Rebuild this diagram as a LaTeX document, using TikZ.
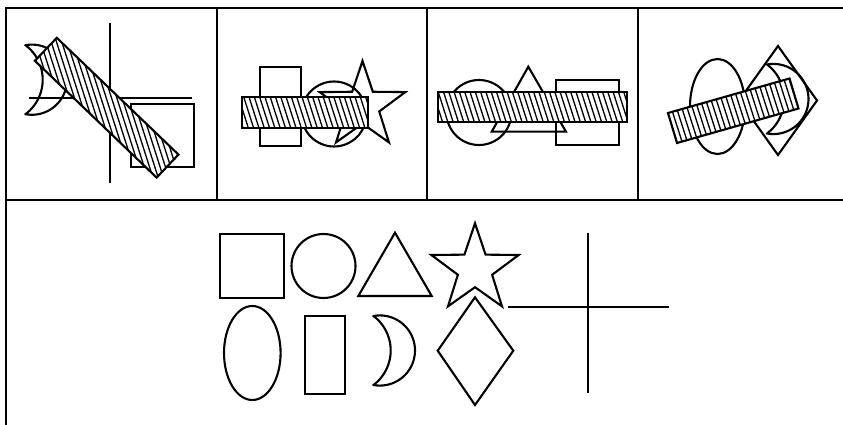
\documentclass[tikz,border=0pt]{standalone}
\tikzset{
  shp/.style={line width=2.1pt, line join=miter},
  frame/.style={line width=2.1pt},
  hatch/.style={line width=1.3pt},
}
% crescent, legend geometry shifted by (#1,#2)
\newcommand\mycrescent[2]{%
  \draw[shp] plot[domain=-100.5:100.5,samples=40] ({379.9+#1+35.1*cos(\x)},{350.5+#2+35.1*sin(\x)})
    -- plot[domain=53:-53,samples=30] ({347.5+#1+43.2*cos(\x)},{350.5+#2+43.2*sin(\x)}) -- cycle;}
% star: center (#1,#2), outer radius #3, inner radius #4
\newcommand\mystar[4]{%
  \draw[shp] plot[samples at={0,...,9}]
    ({#1+((#3+#4)/2+(#3-#4)/2*cos(180*\x))*sin(36*\x)},
     {#2-((#3+#4)/2+(#3-#4)/2*cos(180*\x))*cos(36*\x)}) -- cycle;}
% hatched bar given as a closed polygon path
\newcommand\stripebar[1]{%
  \fill[white] #1 -- cycle;
  \begin{scope}
    \clip #1 -- cycle;
    \foreach \k in {0,...,180} \draw[hatch] ({-100+5.3*\k},0) -- ++(64,200);
  \end{scope}
  \draw[shp] #1 -- cycle;}
\begin{document}
\begin{tikzpicture}[x=1pt,y=-1pt]
\useasboundingbox (0,0) rectangle (843,425);
% frame
\draw[frame] (6,425) -- (6,8.3) -- (843,8.3);
\draw[frame] (6,200) -- (843,200);
\draw[frame] (217,8.3) -- (217,200);
\draw[frame] (427.3,8.3) -- (427.3,200);
\draw[frame] (638,8.3) -- (638,200);

% panel 1
\draw[shp] (110,23) -- (110,183);
\draw[shp] (29,98) -- (192,98);
\draw[shp] (131,104) rectangle (194,167);
\mycrescent{-348}{-270.8}
\stripebar{(56.8,37.8) -- (34.9,60.8) -- (156.6,177.6) -- (178.5,154.6)}

% panel 2
\draw[shp] (260,67) rectangle (300.7,146);
\draw[shp] (334,114) circle[radius=32.5pt];
\mystar{362.5}{106}{45}{17.6}
\stripebar{(241.7,97) -- (367.7,97) -- (367.7,128) -- (241.7,128)}

% panel 3
\draw[shp] (479,112.5) circle[radius=32.5pt];
\draw[shp] (528.3,66.7) -- (566,131.7) -- (491.7,131.7) -- cycle;
\draw[shp] (556,80) rectangle (619.3,145);
\stripebar{(438,92) -- (627.3,92) -- (627.3,122.3) -- (438,122.3)}

% panel 4
\draw[shp] (717.5,106.5) ellipse[x radius=27.5pt, y radius=47.5pt];
\draw[shp] (778,46) -- (817,100.5) -- (778,155) -- (739,100.5) -- cycle;
\mycrescent{393.5}{-251.5}
\stripebar{(668,113) -- (677,143) -- (798.5,108.5) -- (789.5,78.5)}

% legend
\draw[shp] (220,234) rectangle (284.3,298.3);
\draw[shp] (323.5,266) circle[radius=32pt];
\draw[shp] (395,232.7) -- (431.7,296) -- (358.3,296) -- cycle;
\mystar{475}{269.2}{45.9}{18}
\draw[shp] (252.3,353) ellipse[x radius=28.3pt, y radius=47pt];
\draw[shp] (305,316) rectangle (345,394.3);
\mycrescent{0}{0}
\draw[shp] (475,297.3) -- (513.3,350.7) -- (475,405) -- (437.7,350.7) -- cycle;
\draw[shp] (588.3,232.7) -- (588.3,392.7);
\draw[shp] (508.3,307.3) -- (669.3,307.3);
\end{tikzpicture}
\end{document}
